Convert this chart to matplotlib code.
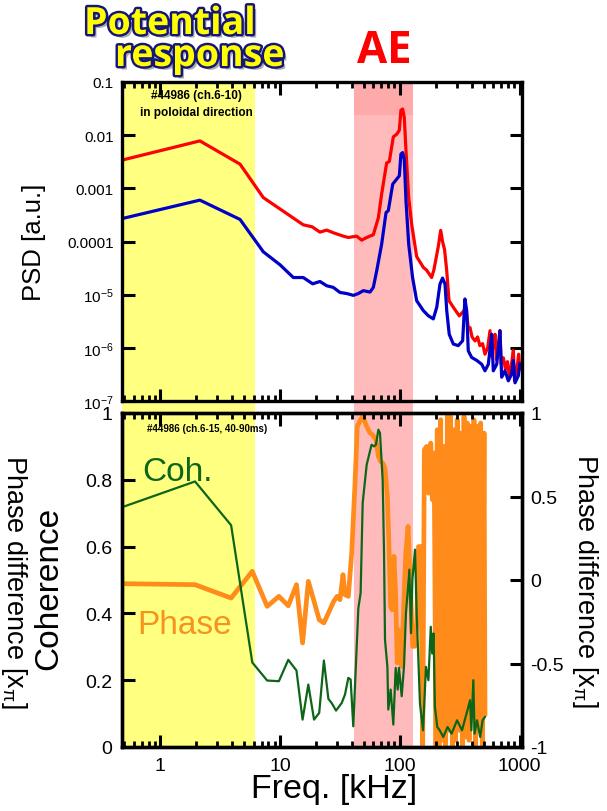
import matplotlib
matplotlib.use('Agg')
import matplotlib.pyplot as plt
import matplotlib.ticker as mticker
import matplotlib.patheffects as pe
from matplotlib.patches import Rectangle
from matplotlib.transforms import blended_transform_factory

plt.rcParams['font.family'] = ['Liberation Sans', 'DejaVu Sans']
plt.rcParams['mathtext.fontset'] = 'custom'
plt.rcParams['mathtext.rm'] = 'Liberation Sans'
plt.rcParams['mathtext.it'] = 'Liberation Sans:italic'
plt.rcParams['mathtext.bf'] = 'Liberation Sans:bold'

# ---------------- data ----------------
red_freq = [0.48, 2.14, 4.63, 7.24, 15.6, 18.5, 21.5, 24.5, 27.8, 33.7, 37.1, 43.5, 48.0, 52.8,
            60.0, 66.1, 70.4, 77.5, 81.6, 88.1, 94.0, 98.9, 102, 105.4, 108.8, 112.4, 118.4, 125.4,
            138, 157, 167, 184, 192, 201, 209, 219, 227, 236, 246, 257, 279, 313, 338, 356, 372,
            385, 400, 424, 445, 465, 490, 513, 540, 565, 580, 600, 622, 640, 660, 684, 700, 730,
            760, 790, 820, 850, 885, 905, 935, 960, 980, 1000]
red_psd = [3.4e-3, 7.8e-3, 2.85e-3, 6.7e-4, 2.06e-4, 1.89e-4, 1.50e-4, 1.64e-4, 1.46e-4, 1.26e-4,
           1.19e-4, 1.26e-4, 1.06e-4, 1.19e-4, 1.34e-4, 2.8e-4, 7.8e-4, 3.0e-3, 3.2e-3, 9.3e-3,
           1.04e-2, 1.24e-2, 2.95e-2, 3.1e-2, 2.15e-2, 5.1e-3, 6.7e-4, 2.1e-4, 5.2e-5, 3.25e-5,
           2.9e-5, 2.1e-5, 2.9e-5, 5.0e-5, 8.0e-5, 1.62e-4, 1.0e-4, 7.0e-5, 2.8e-5, 7.7e-6,
           5.8e-6, 4.0e-6, 4.8e-6, 5.6e-6, 2.4e-6, 2.4e-6, 1.6e-6, 1.35e-6, 1.6e-6, 1.1e-6,
           1.2e-6, 7.6e-7, 1.0e-6, 2.1e-6, 7.0e-7, 1.1e-6, 1.8e-6, 6.0e-7, 9.0e-7, 2.1e-6,
           5.0e-7, 6.5e-7, 4.0e-7, 5.5e-7, 3.0e-7, 4.5e-7, 8.9e-7, 2.4e-7, 3.5e-7, 5.0e-7,
           7.6e-7, 4.0e-7]

blue_freq = [0.48, 2.14, 4.63, 7.24, 9.98, 12.9, 15.6, 18.7, 21.5, 24.5, 27.8, 31.6, 36.0, 40.9,
             45.0, 49.5, 56.3, 60.0, 64.0, 70.4, 76.6, 80.0, 87.1, 94.0, 98.9, 102, 105.4, 108.8,
             112.4, 118.4, 127.6, 138, 157, 173, 190, 203, 216, 227, 238, 246, 258, 279, 307, 334,
             349, 361, 372, 397, 438, 482, 513, 547, 583, 602, 643, 684, 707, 754, 803, 857, 885,
             914, 975, 1000]
blue_psd = [2.7e-4, 6.0e-4, 2.6e-4, 6.4e-5, 3.65e-5, 2.1e-5, 2.1e-5, 1.6e-5, 1.77e-5, 1.47e-5,
            1.37e-5, 1.10e-5, 1.05e-5, 9.7e-6, 1.05e-5, 1.19e-5, 1.12e-5, 1.37e-5, 2.8e-5, 8.9e-5,
            3.5e-4, 3.8e-4, 1.2e-3, 1.49e-3, 1.72e-3, 4.4e-3, 4.7e-3, 3.5e-3, 5.8e-4, 8.9e-5,
            2.1e-5, 7.7e-6, 5.0e-6, 4.0e-6, 3.5e-6, 5.8e-6, 1.58e-5, 2.05e-5, 1.58e-5, 5.0e-6,
            1.8e-6, 1.18e-6, 1.1e-6, 1.36e-6, 8.3e-6, 5.0e-6, 8.8e-7, 6.6e-7, 5.8e-7, 4.9e-7,
            3.7e-7, 4.9e-7, 1.8e-6, 3.7e-7, 4.9e-7, 2.1e-6, 2.8e-7, 3.7e-7, 2.4e-7, 3.2e-7,
            5.8e-7, 2.2e-7, 3.0e-7, 5.0e-7]

coh_freq = [0.48, 1.95, 3.9, 5.86, 7.8, 9.77, 11.7, 13.7, 15.4, 17.2, 19.2, 21.2, 23.2, 25.3, 26.9,
            29.3, 32.7, 34.8, 37.1, 38.8, 40.8, 45.0, 47.0, 48.9, 52.8, 58.0, 60.8, 63.1, 66.1,
            68.2, 71.8, 73.7, 75.1, 78.6, 80.0, 83.7, 88.1, 92.2, 95.8, 98.2, 103.5, 108.2, 112.4,
            119.9, 123.8, 127.1, 133.7, 138, 142, 147, 156, 165, 173, 181, 186, 191, 196, 205,
            215, 230, 250, 270, 300, 330, 360, 385, 395, 410, 420, 440, 468, 490, 513]
coherence = [0.718, 0.795, 0.664, 0.253, 0.199, 0.197, 0.261, 0.229, 0.082, 0.187, 0.082, 0.102,
             0.259, 0.144, 0.132, 0.109, 0.132, 0.157, 0.207, 0.202, 0.062, 0.416, 0.461, 0.731,
             0.845, 0.905, 0.90, 0.905, 0.950, 0.94, 0.80, 0.581, 0.321, 0.241, 0.112, 0.172,
             0.067, 0.237, 0.172, 0.237, 0.152, 0.241, 0.401, 0.531, 0.341, 0.501, 0.591, 0.40,
             0.28, 0.13, 0.05, 0.24, 0.20, 0.36, 0.28, 0.34, 0.12, 0.06, 0.05, 0.03, 0.06, 0.04,
             0.08, 0.05, 0.10, 0.14, 0.05, 0.20, 0.04, 0.08, 0.03, 0.08, 0.09]

phase_freq = [0.48, 1.95, 3.9, 5.86, 7.8, 9.77, 11.7, 13.7, 15.4, 17.2, 19.2, 21.2, 23.2, 25.3, 28.0,
              29.9, 31.6, 33.5, 34.8, 37.1, 39.6, 42.2, 44.1, 47.0, 48.9, 52.8, 56.3, 59.0, 63.1,
              66.1, 69.0, 72.0, 75.0, 78.6, 80.6, 83.7, 86.0, 89.2, 92.2, 95.0, 96.8, 103.5, 108,
              112, 117, 121, 125, 128, 133, 138, 143, 149, 155, 160, 167, 174, 181, 187, 193, 200,
              205, 212, 219, 226, 233, 241, 249, 257, 265, 274, 283, 292, 301, 311, 321, 332, 343,
              354, 366, 378, 390, 403, 415, 429, 443, 457, 472, 488, 504, 513]
phase = [-0.022, -0.028, -0.108, 0.052, -0.158, -0.098, -0.154, -0.028, -0.377, -0.008, -0.128,
         -0.238, -0.257, -0.198, -0.128, -0.098, -0.118, 0.032, -0.088, -0.098, 0.162, 0.581,
         0.920, 0.96, 0.98, 0.92, 0.88, 0.87, 0.84, 0.74, 0.71, 0.70, 0.67, 0.50, 0.26, -0.158,
         -0.178, 0.142, -0.098, -0.497, -0.297, -0.517, -0.118, 0.162, 0.321, 0.042, -0.218,
         -0.397, -0.397, -0.277, 0.20, 0.20, -1.0, 0.78, 0.80, 0.52, 0.82, 0.48, 0.76, -1.0,
         0.90, -1.0, 0.96, -0.96, 0.80, -1.0, 1.0, -0.9, 0.98, -1.0, 0.9, -0.96, 0.96, -0.9,
         0.88, -1.0, 0.98, -0.94, 0.94, -0.96, 0.92, -0.8, 0.96, -1.0, 0.92, -0.9, 0.94, -1.0,
         0.88, -0.8]

psd_ticks = [1e-1, 1e-2, 1e-3, 1e-4, 1e-5, 1e-6, 1e-7]
psd_tick_labels = ['0.1', '0.01', '0.001', '0.0001', '10$^{-5}$', '10$^{-6}$', '10$^{-7}$']
coh_ticks = [0, 0.2, 0.4, 0.6, 0.8, 1]
coh_tick_labels = ['0', '0.2', '0.4', '0.6', '0.8', '1']
phase_ticks = [-1, -0.5, 0, 0.5, 1]
phase_tick_labels = ['-1', '-0.5', '0', '0.5', '1']
freq_ticks = [1, 10, 100, 1000]
freq_tick_labels = ['1', '10', '100', '1000']
potential_band = (0.479, 6.17)
ae_band = (41.6, 128)

# ---------------- figure ----------------
W, H = 607, 812
fig = plt.figure(figsize=(W / 100, H / 100), dpi=100)

def fx(px):
    return px / W

def fy(py):
    return 1 - py / H

L, R = 122, 522
ax1 = fig.add_axes([fx(L), fy(402), fx(R) - fx(L), fy(83) - fy(402)])
ax2 = fig.add_axes([fx(L), fy(748), fx(R) - fx(L), fy(414) - fy(748)])
ax3 = ax2.twinx()
ax2.set_zorder(ax3.get_zorder() + 1)
for a in (ax1, ax2, ax3):
    a.patch.set_visible(False)

XLIM = (0.479, 1045)
for a in (ax1, ax2):
    a.set_xscale('log')
    a.set_xlim(*XLIM)

# bands spanning both panels (figure-level)
tr = blended_transform_factory(ax1.transData, fig.transFigure)
fig.add_artist(Rectangle((potential_band[0], fy(748)), potential_band[1] - potential_band[0],
                         fy(84) - fy(748), transform=tr, facecolor='#ffff80',
                         edgecolor='none', zorder=-5))
fig.add_artist(Rectangle((ae_band[0], fy(748)), ae_band[1] - ae_band[0], fy(84) - fy(748),
                         transform=tr, facecolor='#ffbbbb', edgecolor='none', zorder=-5))
fig.add_artist(Rectangle((ae_band[0], fy(116)), ae_band[1] - ae_band[0], fy(84) - fy(116),
                         transform=tr, facecolor='#ffaaaa', edgecolor='none', zorder=-4))

# top panel
ax1.plot(red_freq, red_psd, color='#ff0000', lw=2.3)
ax1.plot(blue_freq, blue_psd, color='#0000c8', lw=2.3)
ax1.set_yscale('log')
ax1.set_ylim(1e-7, 1e-1)
ax1.yaxis.set_major_locator(mticker.FixedLocator(psd_ticks))
ax1.yaxis.set_major_formatter(mticker.FixedFormatter(psd_tick_labels))
ax1.yaxis.set_minor_locator(mticker.NullLocator())

# bottom panel
ax2.plot(coh_freq, coherence, color='#0d6617', lw=1.6)
ax3.plot(phase_freq, phase, color='#ff8c1a', lw=3.4)
ax2.set_ylim(0, 1)
ax3.set_ylim(-1, 1)
ax2.yaxis.set_major_locator(mticker.FixedLocator(coh_ticks))
ax2.yaxis.set_major_formatter(mticker.FixedFormatter(coh_tick_labels))
ax3.yaxis.set_major_locator(mticker.FixedLocator(phase_ticks))
ax3.yaxis.set_major_formatter(mticker.FixedFormatter(phase_tick_labels))

for a in (ax1, ax2):
    a.xaxis.set_major_locator(mticker.FixedLocator(freq_ticks))
    a.xaxis.set_minor_locator(mticker.LogLocator(base=10, subs=[2, 3, 4, 5, 6, 7, 8, 9], numticks=20))
    a.xaxis.set_minor_formatter(mticker.NullFormatter())
ax2.xaxis.set_major_formatter(mticker.FixedFormatter(freq_tick_labels))

for a in (ax1, ax2, ax3):
    for s in a.spines.values():
        s.set_linewidth(2.4)

ax1.tick_params(which='both', direction='in', top=True, right=True, width=2.2,
                labelbottom=False, labelsize=11, pad=6)
ax1.tick_params(which='major', length=9)
ax1.tick_params(which='minor', length=4.5, width=2)

ax2.tick_params(which='both', direction='in', top=True, right=False, width=2.2,
                labelsize=14, pad=7)
ax2.tick_params(which='major', length=9)
ax2.tick_params(which='minor', length=4.5, width=2)
ax3.tick_params(axis='y', direction='in', right=True, width=2.2, length=9, labelsize=14, pad=6)

# axis labels
fig.text(fx(34), fy(242), 'PSD [a.u.]', rotation=90, ha='center', va='center', fontsize=18.5)
fig.text(fx(49), fy(588), 'Coherence', rotation=90, ha='center', va='center', fontsize=24)
fig.text(fx(14), fy(582), 'Phase difference [x$_{\\mathregular{π}}$]', rotation=270,
         ha='center', va='center', fontsize=19.5)
fig.text(fx(585), fy(581), 'Phase difference [x$_{\\mathregular{π}}$]', rotation=270,
         ha='center', va='center', fontsize=19.5)
fig.text(fx(334), fy(790), 'Freq. [kHz]', ha='center', va='center', fontsize=24.5)

# annotations
fig.text(fx(196), fy(96), '#44986 (ch.6-10)', ha='center', va='center', fontsize=8.5,
         fontweight='bold')
fig.text(fx(196), fy(113), 'in poloidal direction', ha='center', va='center', fontsize=8.5,
         fontweight='bold')
fig.text(fx(207), fy(429), '#44986 (ch.6-15, 40-90ms)', ha='center', va='center', fontsize=7,
         fontweight='bold')
fig.text(fx(142), fy(481), 'Coh.', ha='left', va='baseline', fontsize=24, color='#0d6617')
fig.text(fx(137), fy(634), 'Phase', ha='left', va='baseline', fontsize=24, color='#f7921e')

# titles
title_fx = [pe.SimplePatchShadow(offset=(2.5, -2.5), shadow_rgbFace='#777777', alpha=0.6),
            pe.Stroke(linewidth=3.5, foreground='#15157a'), pe.Normal()]
fig.text(fx(84), fy(35), 'Potential', ha='left', va='baseline', fontsize=27,
         fontweight='bold', family=['Open Sans', 'DejaVu Sans'], color='#ffff00',
         path_effects=title_fx)
fig.text(fx(115), fy(67), 'response', ha='left', va='baseline', fontsize=27,
         fontweight='bold', family=['Open Sans', 'DejaVu Sans'], color='#ffff00',
         path_effects=title_fx)
fig.text(fx(384), fy(63), 'AE', ha='center', va='baseline', fontsize=31.5,
         fontweight='bold', family=['Open Sans', 'DejaVu Sans'], color='#ff0000')

fig.savefig('out.png', dpi=100)
